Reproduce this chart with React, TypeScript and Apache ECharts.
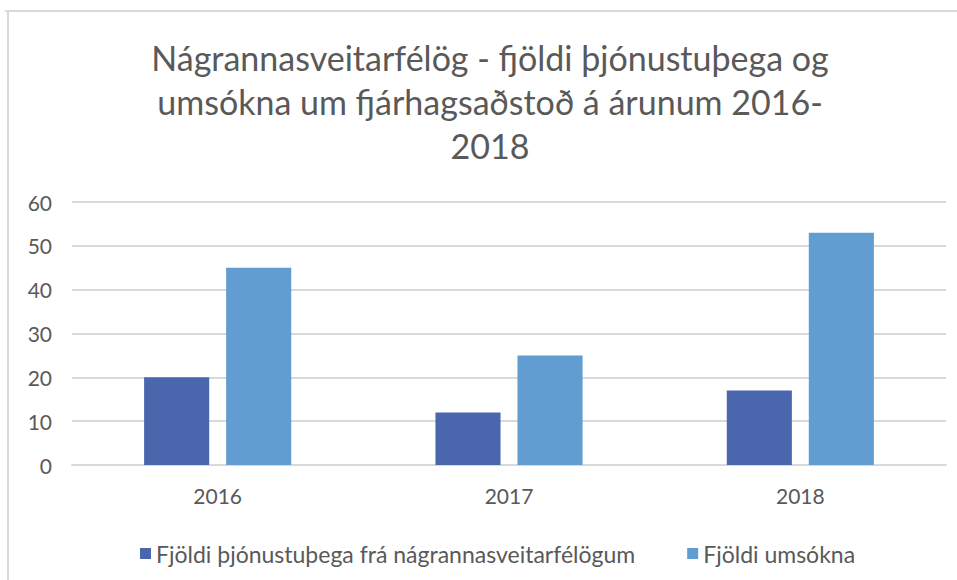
import React, { useEffect, useRef } from "react";
import * as echarts from "echarts";

const titleLines = [
  "Nágrannasveitarfélög - fjöldi þjónustuþega og",
  "umsókna um fjárhagsaðstoð á árunum 2016-",
  "2018",
];
const years = ["2016", "2017", "2018"];
const seriesNames = [
  "Fjöldi þjónustuþega frá nágrannasveitarfélögum",
  "Fjöldi umsókna",
];
const clients = [20, 12, 17];
const applications = [45, 25, 53];
const yTicks = [0, 10, 20, 30, 40, 50, 60];

const FONT = "Lato, 'Open Sans', sans-serif";
const TEXT = "#595959";
const GRID = "#d9d9d9";

export default function App() {
  const ref = useRef<HTMLDivElement>(null);
  useEffect(() => {
    document.body.style.margin = "0";
    const chart = echarts.init(ref.current!, null, { renderer: "svg" });
    chart.setOption({
      animation: false,
      backgroundColor: "#ffffff",
      textStyle: { fontFamily: FONT },
      graphic: [
        {
          type: "line",
          shape: { x1: 5, y1: 11, x2: 957, y2: 11 },
          style: { stroke: GRID, lineWidth: 2 },
        },
        {
          type: "line",
          shape: { x1: 8, y1: 11, x2: 8, y2: 580 },
          style: { stroke: GRID, lineWidth: 2 },
        },
        {
          type: "text",
          x: 490,
          y: 35,
          style: {
            text: titleLines.join("\n"),
            textAlign: "center",
            textVerticalAlign: "top",
            fontFamily: FONT,
            fontSize: 34,
            lineHeight: 44,
            fill: TEXT,
          },
        },
      ],
      legend: {
        left: 135,
        top: 537,
        itemWidth: 11,
        itemHeight: 11,
        itemGap: 52,
        icon: "rect",
        textStyle: { color: TEXT, fontSize: 23, fontFamily: FONT },
        data: seriesNames,
      },
      grid: { left: 72, right: 11, top: 202, bottom: 115, containLabel: false },
      xAxis: {
        type: "category",
        data: years,
        axisLine: { show: true, lineStyle: { color: GRID, width: 2 } },
        axisTick: { show: false },
        axisLabel: { color: TEXT, fontSize: 21, margin: 20, fontFamily: FONT },
      },
      yAxis: {
        type: "value",
        min: yTicks[0],
        max: yTicks[yTicks.length - 1],
        interval: 10,
        axisLine: { show: false },
        axisTick: { show: false },
        axisLabel: { color: TEXT, fontSize: 21, margin: 20, fontFamily: FONT },
        splitLine: { lineStyle: { color: GRID, width: 2 } },
      },
      series: [
        {
          name: seriesNames[0],
          type: "bar",
          data: clients,
          itemStyle: { color: "#4a66ac" },
          barGap: "26%",
          barCategoryGap: "49.5%",
        },
        {
          name: seriesNames[1],
          type: "bar",
          data: applications,
          itemStyle: { color: "#629dd1" },
          barGap: "26%",
          barCategoryGap: "49.5%",
        },
      ],
    });
    return () => chart.dispose();
  }, []);
  return <div ref={ref} style={{ width: 957, height: 580 }} />;
}
